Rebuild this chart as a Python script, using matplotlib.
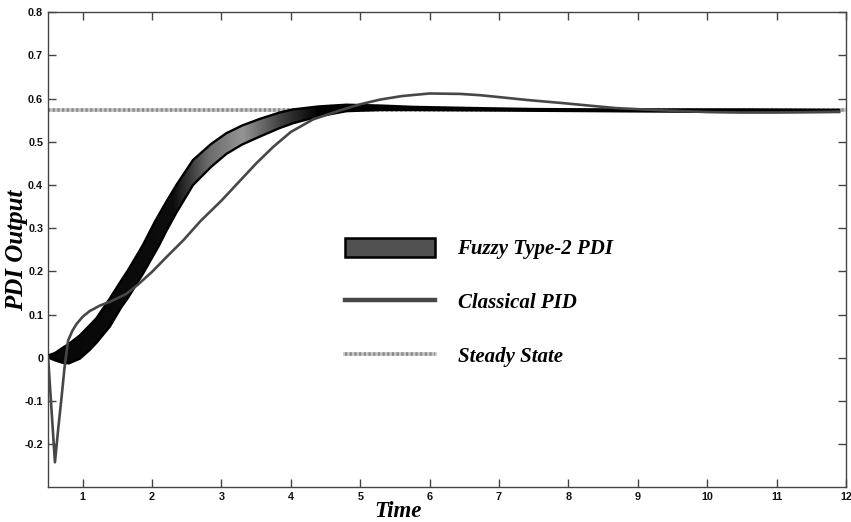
import matplotlib
matplotlib.use("Agg")
import matplotlib.pyplot as plt
import numpy as np
from matplotlib.patches import Rectangle
from matplotlib.lines import Line2D

# --- Data ---
pid_t = [0.5, 0.6, 0.65, 0.69, 0.74, 0.79, 0.85, 0.91, 1.0, 1.1, 1.25, 1.4, 1.63,
         1.8, 2.0, 2.2, 2.45, 2.7, 3.0, 3.25, 3.5, 3.75, 4.0, 4.32, 4.71, 5.0,
         5.29, 5.6, 6.0, 6.44, 6.73, 7.1, 7.4, 7.9, 8.36, 8.7, 9.08, 9.5, 10.0,
         10.5, 11.0, 11.5, 11.9]
pid_y = [0.004, -0.242, -0.16, -0.10, -0.02, 0.04, 0.062, 0.078, 0.095, 0.108,
         0.121, 0.13, 0.148, 0.17, 0.199, 0.232, 0.272, 0.317, 0.364, 0.407,
         0.45, 0.489, 0.523, 0.552, 0.573, 0.587, 0.598, 0.606, 0.612, 0.611,
         0.608, 0.602, 0.597, 0.59, 0.583, 0.578, 0.575, 0.572, 0.569, 0.568,
         0.568, 0.569, 0.570]

fz_t = [0.5, 0.6, 0.72, 0.8, 0.96, 1.1, 1.2, 1.39, 1.56, 1.65, 1.82, 1.87, 2.04,
        2.1, 2.2, 2.35, 2.59, 2.85, 3.07, 3.3, 3.55, 3.84, 4.03, 4.4, 4.8, 5.3,
        5.76, 6.73, 7.5, 8.5, 9.5, 10.5, 11.9]
fz_upper = [0.005, 0.011, 0.024, 0.032, 0.052, 0.075, 0.092, 0.137, 0.18, 0.202,
            0.248, 0.262, 0.315, 0.332, 0.36, 0.4, 0.458, 0.495, 0.52, 0.538,
            0.553, 0.568, 0.575, 0.582, 0.586, 0.584, 0.581, 0.578, 0.576,
            0.575, 0.575, 0.575, 0.574]
fz_lower = [0.001, -0.006, -0.012, -0.013, -0.002, 0.018, 0.035, 0.072, 0.118,
            0.138, 0.182, 0.195, 0.243, 0.26, 0.292, 0.336, 0.4, 0.442, 0.472,
            0.494, 0.512, 0.532, 0.543, 0.559, 0.571, 0.574, 0.574, 0.573,
            0.572, 0.571, 0.570, 0.569, 0.569]

steady_value = 0.573
t_range = [0.5, 12.0]

xticks = [1, 2, 3, 4, 5, 6, 7, 8, 9, 10, 11, 12]
yticks = [-0.2, -0.1, 0, 0.1, 0.2, 0.3, 0.4, 0.5, 0.6, 0.7, 0.8]
ytick_labels = ["-0.2", "-0.1", "0", "0.1", "0.2", "0.3", "0.4", "0.5", "0.6", "0.7", "0.8"]

labels = ["Fuzzy Type-2 PDI", "Classical PID", "Steady State"]

# --- Figure ---
fig = plt.figure(figsize=(8.51, 5.22), dpi=100)
ax = fig.add_axes([48 / 851, 1 - 487.3 / 522, (846 - 48) / 851, (487.3 - 12.3) / 522])

# steady state line (light grey, finely dotted)
ss_base, = ax.plot(t_range, [steady_value] * 2, color="#c4c4c4", lw=2.6, zorder=2)
ss_dots, = ax.plot(t_range, [steady_value] * 2, color="#8a8a8a", lw=2.6,
                   ls=(0, (0.6, 0.7)), zorder=2)

# fuzzy band with horizontal shading clipped to the band
band = ax.fill_between(fz_t, fz_lower, fz_upper, facecolor="none", edgecolor="none", zorder=3)
gx = np.linspace(0.5, 12, 600)
shade = np.interp(gx, [0.5, 2.3, 2.8, 3.3, 3.8, 4.4, 12], [0.03, 0.05, 0.42, 0.58, 0.28, 0.0, 0.0])
img = ax.imshow(shade[np.newaxis, :], cmap="gray", vmin=0, vmax=1, aspect="auto",
                extent=[0.5, 12, -0.05, 0.65], interpolation="bilinear", zorder=3)
img.set_clip_path(band.get_paths()[0], transform=ax.transData)
ax.plot(fz_t, fz_upper, color="black", lw=1.7, zorder=4, solid_joinstyle="round")
ax.plot(fz_t, fz_lower, color="black", lw=1.7, zorder=4, solid_joinstyle="round")

# classical PID
ax.plot(pid_t, pid_y, color="#474747", lw=1.9, zorder=5, solid_joinstyle="round")

ax.set_xlim(0.5, 12)
ax.set_ylim(-0.3, 0.8)
ax.set_xticks(xticks)
ax.set_yticks(yticks)
ax.set_yticklabels(ytick_labels)
ax.tick_params(direction="in", length=5.5, width=1, color="#444444",
               top=True, right=True, labelsize=7.8, pad=3.5)
for lab in ax.get_xticklabels() + ax.get_yticklabels():
    lab.set_fontfamily("Liberation Sans")
    lab.set_fontweight("bold")
    lab.set_color("#111111")
for sp in ax.spines.values():
    sp.set_color("#444444")
    sp.set_linewidth(1)

label_font = dict(family="Liberation Serif", weight="bold", style="italic")
ax.set_xlabel("Time", size=16.5, **label_font)
ax.xaxis.set_label_coords((398 - 48) / 798, -0.062)
ax.xaxis.label.set_va("baseline")
ax.set_ylabel("PDI Output", size=18, **label_font)
ax.yaxis.set_label_coords((17 - 48) / 798, 0.5)
ax.yaxis.label.set_va("center")

# legend
h_fuzzy = Rectangle((0, 0), 1, 1, facecolor="#505050", edgecolor="black", lw=1.8)
h_pid = Line2D([], [], color="#474747", lw=3.2)
leg = ax.legend([h_fuzzy, h_pid, (ss_base, ss_dots)], labels,
                loc="upper left", bbox_to_anchor=(345 / 851, 1 - 238 / 522),
                bbox_transform=fig.transFigure, frameon=False,
                handlelength=4.3, handleheight=1.0, handletextpad=1.1,
                labelspacing=1.55, borderpad=0, borderaxespad=0,
                prop=dict(family="Liberation Serif", weight="bold", style="italic", size=15))

fig.savefig("out.png", dpi=100)
